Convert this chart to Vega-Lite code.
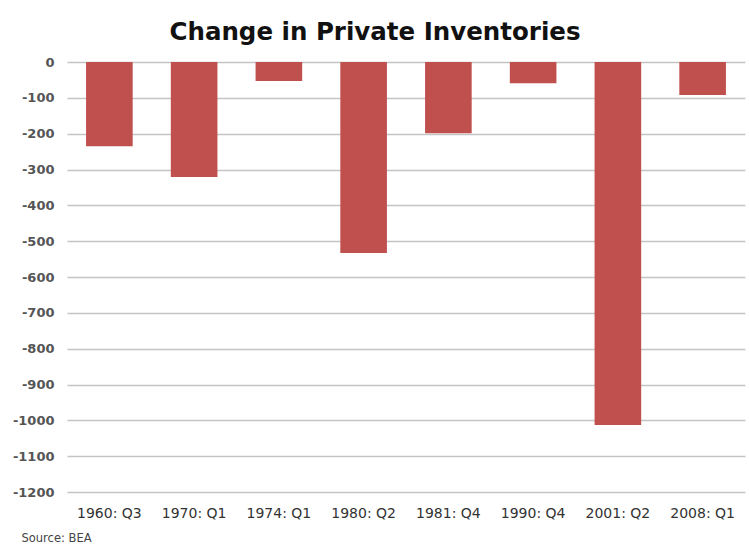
{
  "$schema": "https://vega.github.io/schema/vega-lite/v6.json",
  "autosize": "none",
  "width": 678,
  "height": 430,
  "padding": {"left": 67, "top": 62, "right": 4, "bottom": 55},
  "background": "white",
  "title": {
    "text": "Change in Private Inventories",
    "font": "DejaVu Sans",
    "fontSize": 24.5,
    "fontWeight": "bold",
    "color": "#111111",
    "anchor": "middle",
    "dx": -31,
    "offset": 11
  },
  "data": {
    "values": [
      {"quarter": "1960: Q3", "change": -235},
      {"quarter": "1970: Q1", "change": -321},
      {"quarter": "1974: Q1", "change": -53},
      {"quarter": "1980: Q2", "change": -533},
      {"quarter": "1981: Q4", "change": -199},
      {"quarter": "1990: Q4", "change": -59},
      {"quarter": "2001: Q2", "change": -1013},
      {"quarter": "2008: Q1", "change": -92}
    ]
  },
  "mark": {"type": "bar", "color": "#C0504D"},
  "encoding": {
    "x": {
      "field": "quarter",
      "type": "nominal",
      "sort": null,
      "scale": {"paddingInner": 0.45, "paddingOuter": 0.225},
      "axis": {
        "title": "Source: BEA",
        "titleFont": "DejaVu Sans",
        "titleFontSize": 11.5,
        "titleFontWeight": "normal",
        "titleColor": "#444444",
        "titleAnchor": "start",
        "titleAlign": "left",
        "titleX": -46,
        "titleY": 46,
        "titleBaseline": "middle",
        "labelAngle": 0,
        "labelFont": "DejaVu Sans",
        "labelFontSize": 14,
        "labelColor": "#333333",
        "labelPadding": 14,
        "domain": false,
        "ticks": false,
        "grid": false
      }
    },
    "y": {
      "field": "change",
      "type": "quantitative",
      "scale": {"domain": [-1200, 0], "nice": false},
      "axis": {
        "title": null,
        "values": [0, -100, -200, -300, -400, -500, -600, -700, -800, -900, -1000, -1100, -1200],
        "labelExpr": "'' + datum.value",
        "labelFont": "DejaVu Sans",
        "labelFontSize": 13,
        "labelFontWeight": "bold",
        "labelColor": "#555555",
        "labelPadding": 13,
        "domain": false,
        "ticks": false,
        "grid": true,
        "gridColor": "#c4c4c4",
        "gridWidth": 1.5
      }
    }
  },
  "config": {"view": {"stroke": null}}
}
